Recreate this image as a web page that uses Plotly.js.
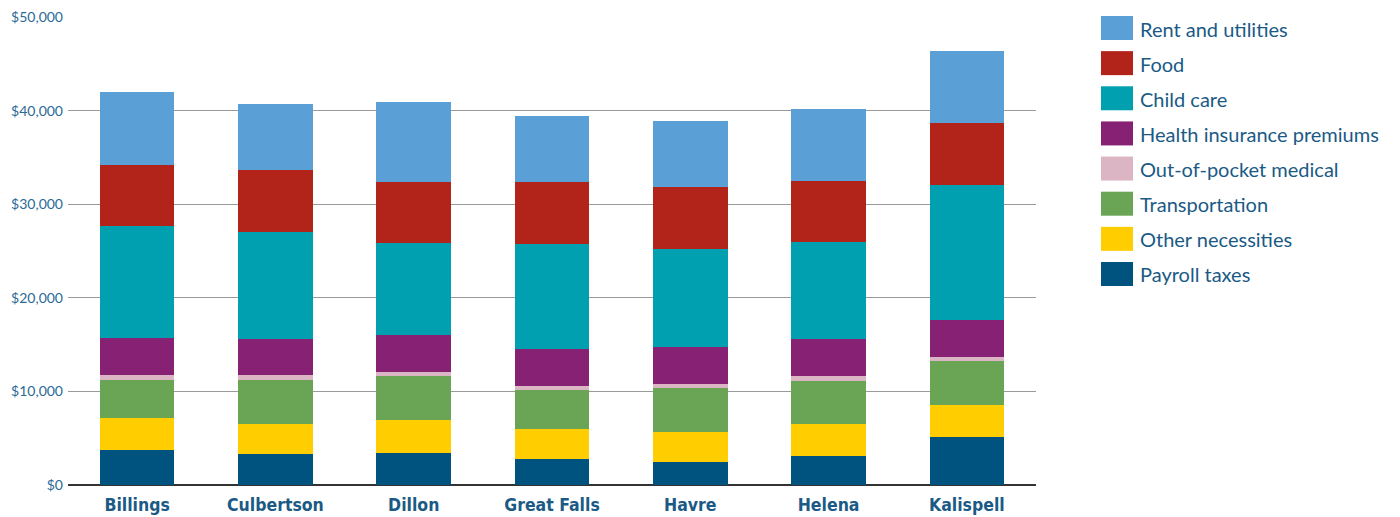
<!DOCTYPE html>
<html>
<head>
<meta charset="utf-8">
<script src="https://cdn.plot.ly/plotly-3.0.1.min.js"></script>
<style>html,body{margin:0;padding:0;background:#fff;}#chart{width:1400px;height:517px;}</style>
</head>
<body>
<div id="chart"></div>
<script>
// Categories (cities)
const cities = ["Billings", "Culbertson", "Dillon", "Great Falls", "Havre", "Helena", "Kalispell"];

// Series values (US dollars per year), bottom of stack first
const payrollTaxes       = [3770, 3350, 3450, 2780, 2460, 3130, 5160];
const otherNecessities   = [3420, 3200, 3490, 3200, 3240, 3420, 3420];
const transportation     = [4030, 4670, 4710, 4170, 4660, 4600, 4670];
const outOfPocketMedical = [570, 570, 420, 460, 430, 500, 460];
const healthInsurance    = [3950, 3840, 3960, 3950, 3950, 3980, 3950];
const childCare          = [11960, 11400, 9820, 11220, 10470, 10360, 14390];
const food               = [6490, 6660, 6550, 6620, 6630, 6490, 6630];
const rentUtilities      = [7800, 7010, 8520, 7060, 7050, 7690, 7690];

// Legend order (top to bottom as shown)
const legendNames = ["Rent and utilities", "Food", "Child care", "Health insurance premiums",
                     "Out-of-pocket medical", "Transportation", "Other necessities", "Payroll taxes"];

// Y axis ticks
const yTickVals = [0, 10000, 20000, 30000, 40000, 50000];
const yTickText = ["$0", "$10,000", "$20,000", "$30,000", "$40,000", "$50,000"];

const colors = {
  "Rent and utilities": "#5a9fd5",
  "Food": "#b22319",
  "Child care": "#00a0b0",
  "Health insurance premiums": "#872174",
  "Out-of-pocket medical": "#dcb5c4",
  "Transportation": "#69a555",
  "Other necessities": "#ffcd00",
  "Payroll taxes": "#00537f"
};

const stackOrder = [
  ["Payroll taxes", payrollTaxes],
  ["Other necessities", otherNecessities],
  ["Transportation", transportation],
  ["Out-of-pocket medical", outOfPocketMedical],
  ["Health insurance premiums", healthInsurance],
  ["Child care", childCare],
  ["Food", food],
  ["Rent and utilities", rentUtilities]
];

const traces = stackOrder.map(([name, vals]) => ({
  type: "bar",
  name: name,
  x: cities,
  y: vals,
  marker: { color: colors[name], line: { width: 0 } },
  showlegend: false,
  hovertemplate: "%{x}<br>" + name + ": $%{y:,.0f}<extra></extra>"
}));

// Manual legend with large swatches
const rowPitch = 35.14;
const shapes = [];
const annotations = [];
legendNames.forEach((name, i) => {
  const top = 1 - rowPitch * i;
  shapes.push({
    type: "rect", xref: "paper", yref: "paper",
    xsizemode: "pixel", ysizemode: "pixel",
    xanchor: 1, yanchor: 1,
    x0: 65, x1: 97, y0: top - 24, y1: top,
    fillcolor: colors[name], line: { width: 0 }
  });
  annotations.push({
    xref: "paper", yref: "paper", x: 1, y: 1,
    xshift: 102, yshift: top - 12.5,
    xanchor: "left", yanchor: "middle",
    text: name, showarrow: false,
    font: { family: "Lato, 'Open Sans', sans-serif", size: 20, color: "#1a5a85" }
  });
});

const layout = {
  width: 1400, height: 517,
  margin: { l: 68, r: 364, t: 17, b: 32, pad: 0 },
  paper_bgcolor: "#ffffff", plot_bgcolor: "#ffffff",
  barmode: "stack",
  bargap: 0.46,
  showlegend: false,
  xaxis: {
    type: "category",
    showgrid: false, showline: false, zeroline: false,
    ticks: "",
    ticklabelstandoff: 7,
    tickfont: { family: "'Liberation Sans Narrow', 'DejaVu Sans Condensed', 'Roboto', sans-serif", size: 17.5, color: "#1a5a85", weight: "bold" }
  },
  yaxis: {
    range: [0, 50000],
    tickmode: "array",
    tickvals: yTickVals,
    ticktext: yTickText,
    showgrid: true, gridcolor: "#9a9a9a", gridwidth: 1,
    zeroline: true, zerolinecolor: "#333333", zerolinewidth: 1.5,
    showline: false, ticks: "",
    ticklabelstandoff: 4,
    tickfont: { family: "Lato, 'Open Sans', sans-serif", size: 14, color: "#2a6a96" }
  },
  shapes: shapes,
  annotations: annotations
};

Plotly.newPlot("chart", traces, layout, { displayModeBar: false });
</script>
</body>
</html>
